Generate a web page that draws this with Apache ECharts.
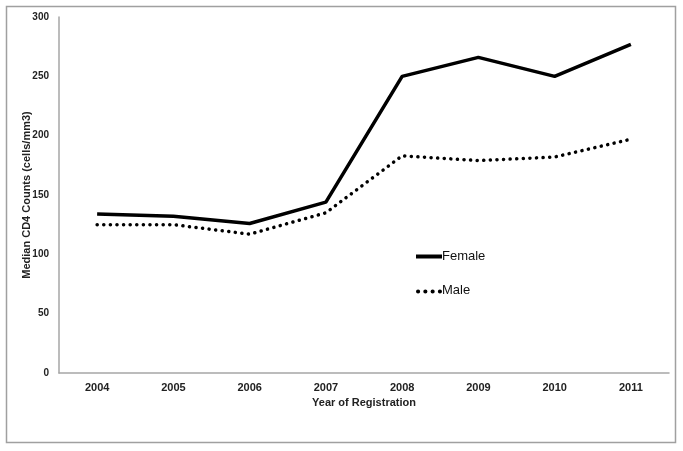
<!DOCTYPE html>
<html><head><meta charset="utf-8">
<script src="https://cdn.jsdelivr.net/npm/echarts@6/dist/echarts.min.js"></script>
<style>html,body{margin:0;padding:0;background:#fff}#c{width:683px;height:451px}</style>
</head><body><div id="c"></div>
<script>
const years = ['2004','2005','2006','2007','2008','2009','2010','2011'];
const female = [134, 132, 126, 144, 250, 266, 250, 277];
const male = [125, 125, 117, 135, 183, 179, 182, 197];
const yTicks = [0, 50, 100, 150, 200, 250, 300];

const chart = echarts.init(document.getElementById('c'));
const font = '"Liberation Sans", Arial, sans-serif';
chart.setOption({
  animation: false,
  backgroundColor: '#fff',
  graphic: [{
    type: 'rect', shape: {x: 6.5, y: 6.5, width: 669, height: 436},
    style: {fill: 'none', stroke: '#a0a0a0', lineWidth: 1.5}, z: -1
  }],
  grid: {left: 59, right: 14, top: 17, bottom: 78},
  legend: {
    orient: 'vertical', left: 411, top: 245, itemGap: 21,
    itemWidth: 26, itemHeight: 10,
    textStyle: {fontFamily: font, fontSize: 13, color: '#111', padding: [0,0,0,-5]},
    data: [
      {name: 'Female', icon: 'path://M0,0H26V4H0Z'},
      {name: 'Male', icon: 'path://M0,0m2,2a2,2 0 1,0 0.01,0M9,2a2,2 0 1,0 0.01,0M16,2a2,2 0 1,0 0.01,0M23,2a2,2 0 1,0 0.01,0'}
    ]
  },
  xAxis: {
    type: 'category', data: years, boundaryGap: true,
    name: 'Year of Registration', nameLocation: 'middle', nameGap: 24,
    nameTextStyle: {fontFamily: font, fontSize: 11, fontWeight: 'bold', color: '#222'},
    axisLine: {lineStyle: {color: '#a6a6a6', width: 1.5}},
    axisTick: {show: false},
    axisLabel: {fontFamily: font, fontSize: 11, fontWeight: 'bold', color: '#222', margin: 9}
  },
  yAxis: {
    type: 'value', min: 0, max: 300, interval: 50,
    name: 'Median CD4 Counts (cells/mm3)', nameLocation: 'middle', nameGap: 27,
    nameMoveOverlap: false,
    nameTextStyle: {fontFamily: font, fontSize: 11, fontWeight: 'bold', color: '#222'},
    axisLine: {show: true, lineStyle: {color: '#a6a6a6', width: 1.5}},
    axisTick: {show: false},
    splitLine: {show: false},
    axisLabel: {fontFamily: font, fontSize: 10, fontWeight: 'bold', color: '#222', margin: 10,
      formatter: v => yTicks.includes(v) ? String(v) : ''}
  },
  series: [
    {name: 'Female', type: 'line', data: female, symbol: 'none', color: '#000',
     lineStyle: {color: '#000', width: 3.5}},
    {name: 'Male', type: 'line', data: male, symbol: 'none', color: '#000',
     lineStyle: {color: '#000', width: 3.5, type: [0.1, 6.5], cap: 'round'}}
  ]
});
</script></body></html>
